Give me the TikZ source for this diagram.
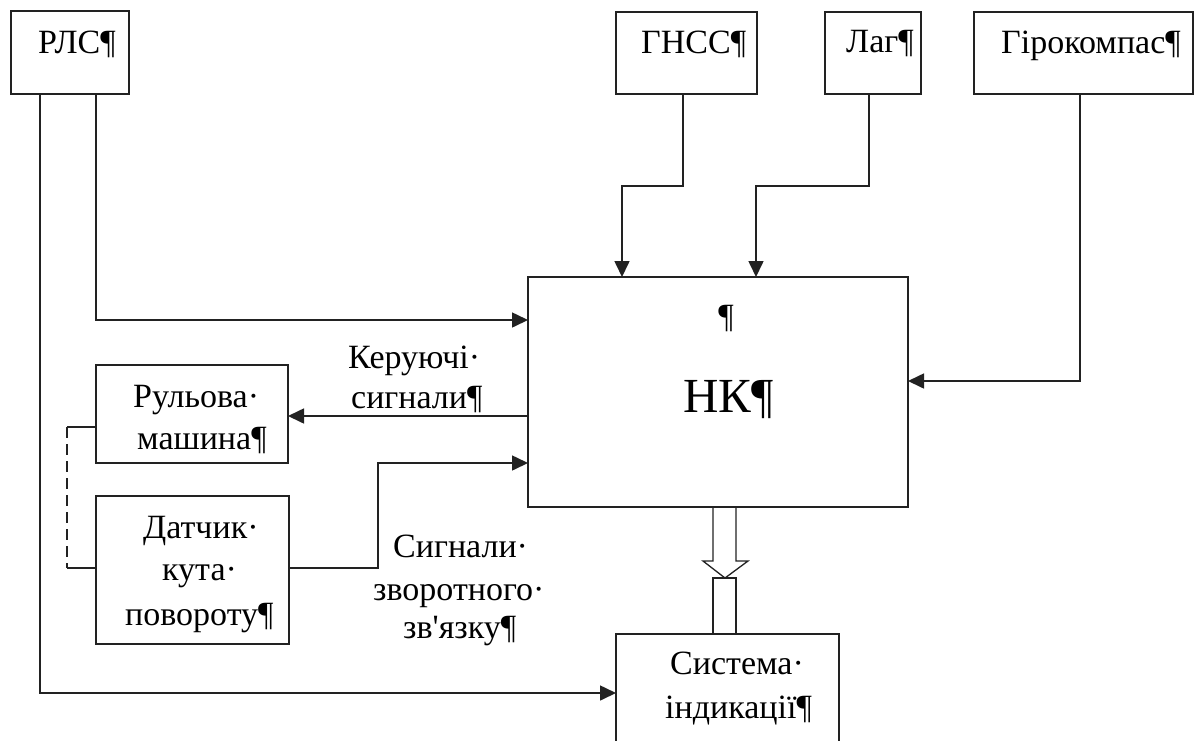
\documentclass[tikz,border=0pt]{standalone}
\usepackage{fontspec}
\newfontfamily\dfont{Liberation Serif}
\usetikzlibrary{arrows.meta}
\definecolor{linec}{HTML}{222222}
\begin{document}
\begin{tikzpicture}[x=1pt,y=-1pt,
  box/.style={draw=linec, line width=1.6pt, inner sep=0pt, outer sep=0pt, fill=white},
  lbl/.style={anchor=base west, inner sep=0pt, font=\dfont\fontsize{34}{40}\selectfont},
  conn/.style={draw=linec, line width=1.6pt},
  arr/.style={conn, -{Triangle[length=16pt,width=15pt]}},
  dashline/.style={conn, dash pattern=on 11pt off 6pt}]
  \useasboundingbox (0,0) rectangle (1195,740);
  \fill[white] (0,0) rectangle (1195,740);
  \clip (0,0) rectangle (1195,740);

  % source blocks along the top
  \node[box, minimum width=118pt, minimum height=83pt] (rls)  at (70,52.5) {};
  \node[box, minimum width=141pt, minimum height=82pt] (gnss) at (686.5,53) {};
  \node[box, minimum width=96pt,  minimum height=82pt] (lag)  at (873,53) {};
  \node[box, minimum width=219pt, minimum height=82pt] (giro) at (1083.5,53) {};

  % central computer, actuators and display
  \node[box, minimum width=380pt, minimum height=230pt] (nk)  at (718,392) {};
  \node[box, minimum width=192pt, minimum height=98pt]  (rul) at (192,414) {};
  \node[box, minimum width=193pt, minimum height=148pt] (dat) at (192.5,570) {};
  \node[box, minimum width=223pt, minimum height=112pt] (sys) at (727.5,690) {};

  % block labels
  \node[lbl] (trls)  at (38,53)   {РЛС¶};
  \node[lbl] (tgnss) at (641,53)  {ГНСС¶};
  \node[lbl] (tlag)  at (846,52)  {Лаг¶};
  \node[lbl] (tgiro) at (1001,53) {Гірокомпас¶};
  \node[lbl, anchor=base] (tnkp) at (726,327) {¶};
  \node[lbl, font=\dfont\fontsize{49}{56}\selectfont] (tnk) at (683,412) {НК¶};
  \node[lbl] (trul1) at (133,407) {Рульова·};
  \node[lbl] (trul2) at (137,449) {машина¶};
  \node[lbl] (tdat1) at (143,538) {Датчик·};
  \node[lbl] (tdat2) at (162,580) {кута·};
  \node[lbl] (tdat3) at (125,625) {повороту¶};
  \node[lbl] (tsys1) at (670,674) {Система·};
  \node[lbl] (tsys2) at (665,718) {індикації¶};

  % signal labels
  \node[lbl] (tctl1) at (348,368) {Керуючі·};
  \node[lbl] (tctl2) at (351,408) {сигнали¶};
  \node[lbl] (tfb1)  at (393,557) {Сигнали·};
  \node[lbl] (tfb2)  at (373,600) {зворотного·};
  \node[lbl] (tfb3)  at (403,638) {зв'язку¶};

  % inputs to the computer
  \draw[arr] (rls.south -| 96,0) |- (nk.west |- 0,320);
  \draw[arr] (gnss.south -| 683,0) -- (683,186) -- (622,186) -- (nk.north -| 622,0);
  \draw[arr] (lag.south -| 869,0) -- (869,186) -- (756,186) -- (nk.north -| 756,0);
  \draw[arr] (giro.south -| 1080,0) |- (nk.east |- 0,381);
  \draw[arr] (rls.south -| 40,0) |- (sys.west |- 0,693);

  % steering loop
  \draw[arr] (nk.west |- 0,416) -- (rul.east |- 0,416);
  \draw[arr] (dat.east |- 0,568) -- (378,568) -- (378,463) -- (nk.west |- 0,463);
  \draw[conn] (rul.west |- 0,427) -- (67,427);
  \draw[dashline] (67,427) -- (67,568);
  \draw[conn] (67,568) -- (dat.west |- 0,568);

  % hollow arrow to the display
  \draw[conn, line width=1.3pt, line join=miter]
    (nk.south -| 713,0) -- (713,561) -- (703,561) -- (725,578)
    -- (748,561) -- (736,561) -- (nk.south -| 736,0);
  \draw[conn, line width=1.3pt] (713,578) rectangle (sys.north -| 736,0);
\end{tikzpicture}
\end{document}
